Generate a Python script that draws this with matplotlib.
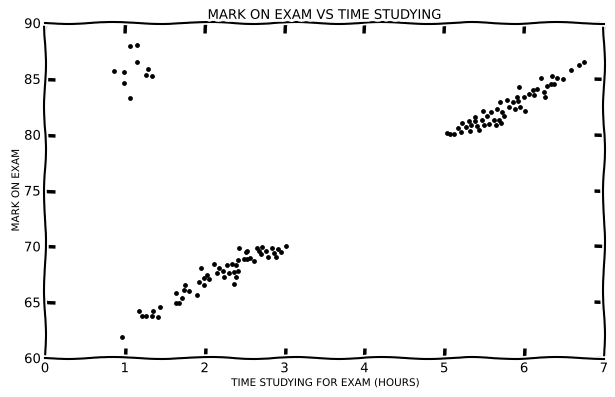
import matplotlib
matplotlib.use("Agg")
import matplotlib.pyplot as plt

# Cluster: short study time, high marks
x_top = [0.860, 0.989, 0.985, 1.064, 1.148, 1.152, 1.290, 1.268, 1.340, 1.064]
y_top = [85.67, 85.64, 84.63, 87.94, 88.00, 86.53, 85.91, 85.32, 85.28, 83.31]

# Cluster: 1-3 hours
x_low = [0.960, 1.171, 1.218, 1.265, 1.349, 1.346, 1.421, 1.444, 1.640, 1.640,
         1.682, 1.716, 1.753, 1.744, 1.799, 1.907, 1.950, 1.928, 1.987, 2.029,
         2.057, 1.995, 2.116, 2.158, 2.179, 2.229, 2.238, 2.298, 2.275, 2.345,
         2.363, 2.392, 2.420, 2.388, 2.367, 2.420, 2.488, 2.526, 2.429, 2.513,
         2.533, 2.567, 2.617, 2.651, 2.676, 2.721, 2.705, 2.764, 2.792, 2.846,
         2.871, 2.893, 2.921, 2.951, 3.014]
y_low = [61.91, 64.21, 63.79, 63.79, 64.21, 63.79, 63.70, 64.54, 65.79, 64.95,
         64.90, 65.33, 66.51, 66.09, 65.97, 65.62, 68.06, 66.78, 66.58, 67.41,
         67.08, 67.19, 68.39, 67.59, 68.02, 67.76, 67.28, 67.59, 68.30, 68.39,
         67.68, 68.33, 67.82, 67.25, 66.60, 68.78, 68.87, 68.87, 69.81, 69.47,
         69.58, 68.93, 68.71, 69.88, 69.61, 69.94, 69.31, 69.58, 69.07, 69.82,
         69.38, 69.02, 69.76, 69.47, 70.03]

# Cluster: 5-7 hours
x_high = [5.030, 5.078, 5.121, 5.178, 5.205, 5.228, 5.272, 5.322, 5.316, 5.331,
          5.381, 5.384, 5.406, 5.438, 5.468, 5.488, 5.500, 5.541, 5.556, 5.587,
          5.619, 5.647, 5.666, 5.685, 5.694, 5.706, 5.729, 5.748, 5.781, 5.814,
          5.856, 5.889, 5.910, 5.919, 5.939, 5.948, 6.011, 6.004, 6.063, 6.111,
          6.129, 6.157, 6.217, 6.257, 6.255, 6.292, 6.332, 6.345, 6.374, 6.407,
          6.490, 6.589, 6.689, 6.749]
y_high = [80.12, 80.09, 80.06, 80.60, 80.24, 81.05, 80.69, 80.37, 81.22, 80.91,
          81.25, 81.54, 80.78, 80.39, 81.29, 82.09, 80.91, 81.65, 80.96, 81.99,
          81.34, 80.84, 82.34, 81.36, 82.90, 81.02, 82.07, 81.63, 83.10, 82.48,
          82.95, 82.33, 83.42, 83.06, 84.24, 82.48, 82.12, 83.40, 83.67, 84.03,
          83.55, 84.12, 85.05, 83.42, 83.82, 84.36, 84.51, 85.28, 84.56, 85.10,
          85.03, 85.79, 86.24, 86.55]

x_ticks = [0, 1, 2, 3, 4, 5, 6, 7]
y_ticks = [60, 65, 70, 75, 80, 85, 90]

title = "MARK ON EXAM VS TIME STUDYING"
xlabel = "TIME STUDYING FOR EXAM (HOURS)"
ylabel = "MARK ON EXAM"

with plt.xkcd():
    plt.rcParams['font.family'] = ['DejaVu Sans']
    fig = plt.figure(figsize=(6.15, 3.97), dpi=100)
    ax = fig.add_axes([0.0732, 0.0982, 0.9088, 0.8438])
    xs = x_top + x_low + x_high
    ys = y_top + y_low + y_high
    ax.scatter(xs, ys, s=6, color='black', zorder=3)
    ax.set_xlim(0, 7)
    ax.set_ylim(60, 90)
    ax.set_xticks(x_ticks)
    ax.set_yticks(y_ticks)
    ax.tick_params(direction='in', top=True, right=True, labelsize=9.5,
                   length=7, width=2.5, pad=3)
    ax.set_title(title, fontsize=9.5, pad=3)
    ax.set_xlabel(xlabel, fontsize=7.5, labelpad=2)
    ax.set_ylabel(ylabel, fontsize=7.5, labelpad=2)
    fig.savefig("out.png", dpi=100)
